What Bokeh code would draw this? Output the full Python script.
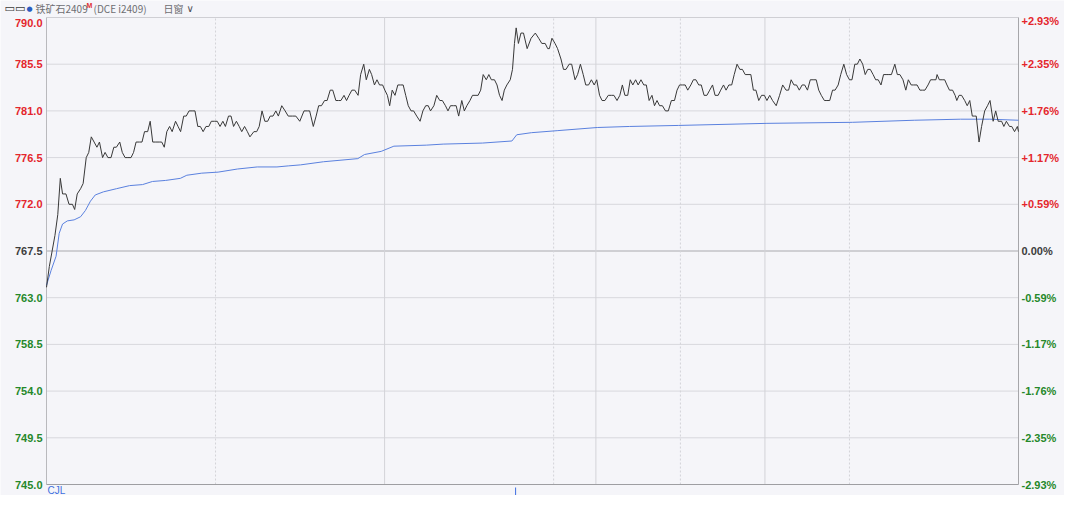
from bokeh.plotting import figure
from bokeh.models import Range1d, ColumnDataSource
from bokeh.core.properties import value
from bokeh.embed import file_html
from bokeh.resources import INLINE

# ---------------- data ----------------
# minutes since session open (21:00 night session ... 15:00 close, 345 trading minutes)
price_minutes = [0, 1, 2, 3, 4, 4.9, 5.7, 6.9, 8.0, 9.2, 10.0, 10.9, 12.1, 13.0, 14.1, 15.0, 15.9, 16.9, 17.9, 18.8,
                 19.9, 20.8, 21.8, 22.9, 23.9, 24.8, 26.0, 26.9, 27.9, 28.9, 30.0, 30.9, 31.8, 33.0, 33.9, 34.8,
                 35.9, 36.8, 37.7, 38.8, 40.0, 40.9, 41.8, 42.7, 43.7, 44.6, 45.8, 46.7, 47.6, 48.7, 49.6, 50.6,
                 51.7, 52.7, 53.7, 54.6, 55.6, 56.6, 57.6, 58.5, 59.7, 60.6, 61.6, 62.6, 63.5, 64.6, 65.5, 66.4,
                 67.4, 68.4, 69.3, 70.3, 71.3, 72.2, 73.6, 74.6, 75.5, 76.5, 77.5, 78.5, 79.4, 80.4, 81.4, 82.3,
                 83.5, 84.7, 85.8, 87.3, 88.5, 89.9, 91.4, 92.6, 93.4, 94.7, 95.7, 96.6, 97.6, 98.7, 99.6, 100.7,
                 101.6, 102.7, 103.6, 104.5, 105.6, 106.5, 107.4, 108.4, 109.4, 110.6, 111.5, 112.6, 113.5, 114.6,
                 115.4, 116.4, 117.3, 118.2, 119.3, 120.1, 121.0, 121.8, 122.7, 123.7, 124.7, 125.6, 126.6, 127.5,
                 128.4, 129.4, 130.3, 131.4, 132.6, 133.6, 134.6, 135.5, 136.3, 137.5, 138.5, 139.6, 140.5, 141.6,
                 142.5, 143.4, 144.4, 145.4, 146.3, 147.4, 148.3, 149.2, 150.3, 151.2, 152.1, 153.2, 154.1, 155.0,
                 156.1, 157.0, 157.9, 159.0, 159.9, 160.8, 161.7, 162.5, 163.4, 164.6, 165.4, 166.1, 166.7, 167.5,
                 168.4, 169.3, 170.6, 172.0, 173.5, 174.7, 175.8, 177.0, 177.9, 178.5, 179.4, 180.5, 181.4, 182.6,
                 183.5, 184.4, 185.5, 186.4, 187.6, 188.5, 189.5, 190.5, 191.4, 192.4, 193.4, 194.4, 195.3, 196.3,
                 197.2, 198.2, 199.4, 200.6, 201.4, 202.5, 203.5, 204.4, 205.3, 206.3, 207.2, 208.1, 209.1, 210.0,
                 211.0, 212.0, 212.9, 213.9, 214.9, 215.8, 216.7, 217.6, 218.6, 219.7, 220.7, 221.8, 222.9, 223.8,
                 224.7, 225.8, 226.7, 227.6, 228.7, 229.6, 230.5, 231.5, 232.4, 233.4, 234.4, 235.4, 236.4, 237.3,
                 238.4, 239.3, 240.3, 241.2, 242.2, 243.2, 244.1, 245.1, 246.1, 247.0, 248.0, 249.0, 250.0, 250.9,
                 251.8, 252.8, 253.8, 254.8, 255.7, 256.7, 257.7, 259.0, 260.2, 261.3, 262.5, 263.4, 264.3, 265.3,
                 266.2, 267.2, 268.2, 269.1, 270.1, 271.1, 272.1, 273.2, 274.1, 275.0, 276.1, 277.0, 278.0, 279.0,
                 279.9, 281.0, 281.9, 283.0, 284.0, 285.0, 285.9, 286.9, 287.8, 288.7, 289.7, 290.6, 291.5, 292.4,
                 293.4, 294.3, 295.2, 296.2, 297.1, 298.0, 299.0, 299.9, 301.1, 302.0, 302.9, 304.0, 305.0, 305.9,
                 306.9, 307.8, 309.0, 310.0, 310.9, 311.8, 312.9, 313.8, 314.7, 315.7, 316.1, 316.9, 317.9, 318.8,
                 319.6, 320.5, 321.6, 322.5, 323.1, 323.9, 324.8, 325.9, 326.8, 327.7, 328.6, 329.3, 330.0, 331.0,
                 331.9, 333.0, 334.0, 334.9, 336.0, 336.9, 337.8, 339.0, 339.8, 340.7, 341.8, 342.6, 343.6, 344.6,
                 345.0]
price_values = [764, 766, 767.5, 769, 771, 774.5, 773, 773, 772, 772, 771.5, 773, 773.5, 774, 776.5, 777, 778.5, 778,
                777.5, 778, 776.5, 777, 776.5, 776.5, 777.5, 777.5, 778, 777, 776.5, 776.5, 776.5, 777, 778, 778,
                778, 779, 779, 780, 778, 778, 778, 778, 777.5, 779, 779.5, 779, 780, 779.5, 779, 780.5, 780.5, 781,
                781, 781, 779.5, 779.5, 779, 779.5, 779.5, 780, 780, 780, 779.5, 780, 779.5, 780.5, 780.5, 779.5,
                780, 779.5, 779, 779.5, 779, 778.5, 779, 779, 779.5, 781, 780, 780, 780.5, 780.5, 781, 780.5,
                781.5, 781, 780.5, 780.5, 780.5, 780, 781, 781, 781, 779.5, 780.5, 781.5, 781.5, 782, 782, 783,
                783, 782, 782, 782, 782.5, 782, 782.5, 783, 783, 782.5, 784.5, 785.5, 784, 785,
                784.5, 783.5, 784, 783.5, 783.5, 783, 782.5, 781.5, 783, 782.5, 783.5, 783.5, 783.5, 782.5,
                781.5, 781, 781, 780.5, 780, 781, 781.5, 781.5, 781, 781.5, 782.5, 782, 782, 781.5,
                781, 781.5, 781.5, 781.5, 780.5, 782, 781, 781.5, 782, 782.5, 782.5, 782.5, 783, 784.5,
                784, 784.5, 784, 784, 783.5, 782.5, 782, 783, 783.5, 784, 785, 787.5, 789, 787.5,
                788.5, 788.5, 787, 788, 788.5, 788, 787.5, 787.5, 787, 787, 788, 787.5, 787, 786,
                785, 785, 785.5, 785.5, 784, 784.5, 785.5, 784.5, 783.5, 783.5, 784, 783.5, 784, 782.5,
                782, 782, 782.5, 782.5, 782.5, 782, 782.5, 783.5, 782.5, 782.5, 784, 783.5, 784, 783.5,
                784, 783.5, 783.5, 782, 782.5, 781.5, 782, 781.5, 781.5, 781, 781, 782, 782, 783,
                783.5, 783.5, 783.5, 783, 783.5, 784, 784, 783.5, 783.5, 782.5, 782.5, 783, 783.5, 782.5,
                782.5, 783, 783.5, 783, 783.5, 783.5, 784.5, 785.5, 785, 785, 784.5, 784.5, 784.5, 783,
                783, 782, 782.5, 782.5, 782, 782.5, 782, 781.5, 782.5, 783.5, 783, 783, 784, 783.5,
                783.5, 783, 783.5, 783.5, 783, 784, 784, 784, 783, 782.5, 782, 782, 782, 783,
                783, 783.5, 784.5, 785.5, 784.5, 784, 784, 785.5, 785.5, 786, 785.5, 784.5, 785, 785,
                784.5, 784, 784, 783.5, 784.5, 784.5, 784.5, 784.5, 785.5, 784.5, 784.5, 784, 783, 784,
                783.5, 783.5, 783.5, 783, 783, 783, 783.5, 784, 784, 784, 784.5, 784, 784, 784,
                783.5, 783, 783, 782.5, 782, 782.5, 782.5, 782, 781.5, 782, 780.5, 780.5, 780.5, 778,
                779.5, 781, 781.5, 782, 780, 781, 780, 780, 779.5, 780, 779.5, 779.5, 779, 779.5,
                779]

# average price line
avg_minutes = [0, 1.6, 3.4, 4.5, 5.7, 7.4, 9.8, 12.1, 13.8, 15.6, 17.3, 20.2, 24.8, 29.5, 34.1, 37.6, 42.3, 47.5,
               49.8, 55.1, 60.9, 67.8, 74.8, 81.8, 85.8, 90.2, 98.3, 110.5, 112.9, 118.8, 123.3, 134.8, 140.8,
               154.7, 165.2, 166.9, 172.1, 181.5, 195.5, 207, 224.4, 255.7, 286, 308, 324.4, 334.8, 345]
avg_values = [764.2, 765.6, 767.0, 769.2, 770.1, 770.4, 770.5, 770.8, 771.4, 772.3, 772.9, 773.2, 773.5, 773.8,
              773.9, 774.2, 774.3, 774.5, 774.8, 775.0, 775.1, 775.4, 775.6, 775.6, 775.7, 775.8, 776.1, 776.4,
              776.8, 777.1, 777.6, 777.7, 777.8, 777.9, 778.1, 778.7, 778.9, 779.1, 779.4, 779.5, 779.6, 779.8,
              779.9, 780.1, 780.2, 780.2, 780.1]

price_ticks = [790.0, 785.5, 781.0, 776.5, 772.0, 767.5, 763.0, 758.5, 754.0, 749.5, 745.0]
left_labels = ["790.0", "785.5", "781.0", "776.5", "772.0", "767.5", "763.0", "758.5", "754.0", "749.5", "745.0"]
right_labels = ["+2.93%", "+2.35%", "+1.76%", "+1.17%", "+0.59%", "0.00%", "-0.59%", "-1.17%", "-1.76%",
                "-2.35%", "-2.93%"]
prev_settle = 767.5

session_breaks = [120, 195, 255]      # 23:00/09:00, 10:15/10:30, 11:30/13:30
hour_marks = [60, 180, 225, 285]      # 22:00, 10:00, 11:00, 14:00
volume_spike_minute = [166.5]

T0, T1 = 0, 345
Y_LO, Y_HI = 745.0, 790.0

# ---------------- layout ----------------
W, H = 1064, 495
LEFT_PX, RIGHT_PX, TOP_PX, BOTTOM_PX = 46, 1018, 17, 484
ppm = (RIGHT_PX - LEFT_PX) / (T1 - T0)
ppu = (BOTTOM_PX - TOP_PX) / (Y_HI - Y_LO)
x_start = T0 - LEFT_PX / ppm
x_end = T1 + (W - RIGHT_PX) / ppm
y_end = Y_HI + TOP_PX / ppu
y_start = Y_LO - (H - BOTTOM_PX) / ppu


def xd(px):
    return x_start + px / ppm


def yd(px):
    return y_end - px / ppu


BG = "#f5f5f9"
RED = "#e4262c"
GREEN = "#25882a"
DARK = "#3c3c3c"

p = figure(width=W, height=H, x_range=Range1d(x_start, x_end), y_range=Range1d(y_start, y_end),
           x_axis_type=None, y_axis_type=None, min_border=0, toolbar_location=None,
           output_backend="svg")
p.outline_line_color = None
p.background_fill_color = BG
p.border_fill_color = BG
p.grid.visible = False

# horizontal grid
minor = [t for t in price_ticks if t not in (Y_HI, Y_LO, prev_settle)]
p.segment(x0=[T0] * len(minor), x1=[T1] * len(minor), y0=minor, y1=minor, line_color="#d8d8dd", line_width=1)
p.segment(x0=[T0], x1=[T1], y0=[prev_settle], y1=[prev_settle], line_color="#a9a9ae", line_width=1)
p.segment(x0=[T0], x1=[T1], y0=[Y_HI], y1=[Y_HI], line_color="#cfcfd4", line_width=1)

# vertical grid
p.segment(x0=session_breaks, x1=session_breaks, y0=[Y_LO] * 3, y1=[Y_HI] * 3,
          line_color="#d3d3d8", line_width=1)
p.segment(x0=hour_marks, x1=hour_marks, y0=[Y_LO] * 4, y1=[Y_HI] * 4,
          line_color="#d3d3d8", line_width=1, line_dash="2 2")

# frame
p.segment(x0=[T0], x1=[T0], y0=[Y_LO], y1=[Y_HI], line_color="#b9b9bd", line_width=1)
p.segment(x0=[T1], x1=[T1], y0=[Y_LO], y1=[Y_HI], line_color="#a6a6aa", line_width=1)
p.segment(x0=[T0], x1=[T1], y0=[Y_LO], y1=[Y_LO], line_color="#9e9ea2", line_width=1)

# series
p.line(avg_minutes, avg_values, line_color="#5a80de", line_width=1)
p.line(price_minutes, price_values, line_color="#383838", line_width=1)

# axis labels
colors = [RED if v > prev_settle else (DARK if v == prev_settle else GREEN) for v in price_ticks]
src = ColumnDataSource(dict(y=price_ticks[1:], l=left_labels[1:], r=right_labels[1:], c=colors[1:]))
font = value("Liberation Sans")
RX = RIGHT_PX + 3
p.text(x=xd(42), y="y", text="l", text_color="c", source=src, text_font=font, text_font_size="11px",
       text_font_style="bold", text_align="right", text_baseline="middle")
p.text(x=xd(RX), y="y", text="r", text_color="c", source=src, text_font=font, text_font_size="11px",
       text_font_style="bold", text_align="left", text_baseline="middle")
p.text(x=[xd(42)], y=[price_ticks[0]], text=[left_labels[0]], text_color=colors[0], text_font=font,
       text_font_size="11px", text_font_style="bold", text_align="right", text_baseline="top", y_offset=1)
p.text(x=[xd(RX)], y=[price_ticks[0]], text=[right_labels[0]], text_color=colors[0], text_font=font,
       text_font_size="11px", text_font_style="bold", text_align="left", text_baseline="middle", y_offset=3)

# header
hy = yd(8)
cjk = value("Noto Sans CJK SC")
p.text(x=[xd(4)], y=[hy], text=["▭▭"], text_color="#3a3a3a", text_font=value("DejaVu Sans"),
       text_font_size="11px", text_font_style="bold", text_baseline="middle")
p.text(x=[xd(26)], y=[hy], text=["●"], text_color="#2a5cc0", text_font=value("DejaVu Sans"),
       text_font_size="7px", text_baseline="middle")
p.text(x=[xd(35)], y=[hy], text=["铁矿石2409"], text_color="#6e6e72", text_font=cjk,
       text_font_size="10px", text_baseline="middle")
p.text(x=[xd(86)], y=[yd(5)], text=["M"], text_color="#e03030", text_font=font,
       text_font_size="7px", text_font_style="bold", text_baseline="middle")
p.text(x=[xd(93)], y=[hy], text=["(DCE  i2409)"], text_color="#6e6e72", text_font=cjk,
       text_font_size="10px", text_baseline="middle")
p.text(x=[xd(163)], y=[hy], text=["日窗"], text_color="#6e6e72", text_font=cjk,
       text_font_size="10px", text_baseline="middle")
p.text(x=[xd(186)], y=[hy], text=["∨"], text_color="#505055", text_font=value("DejaVu Sans"),
       text_font_size="10px", text_baseline="middle")

# sub-panel remnant
p.text(x=[xd(47)], y=[yd(490)], text=["CJL"], text_color="#3d6ee0", text_font=font,
       text_font_size="10px", text_baseline="middle")
p.segment(x0=volume_spike_minute, x1=volume_spike_minute, y0=[yd(487)], y1=[yd(495)],
          line_color="#3d6ee0", line_width=1)

open("out.html", "w").write(file_html(p, INLINE))
